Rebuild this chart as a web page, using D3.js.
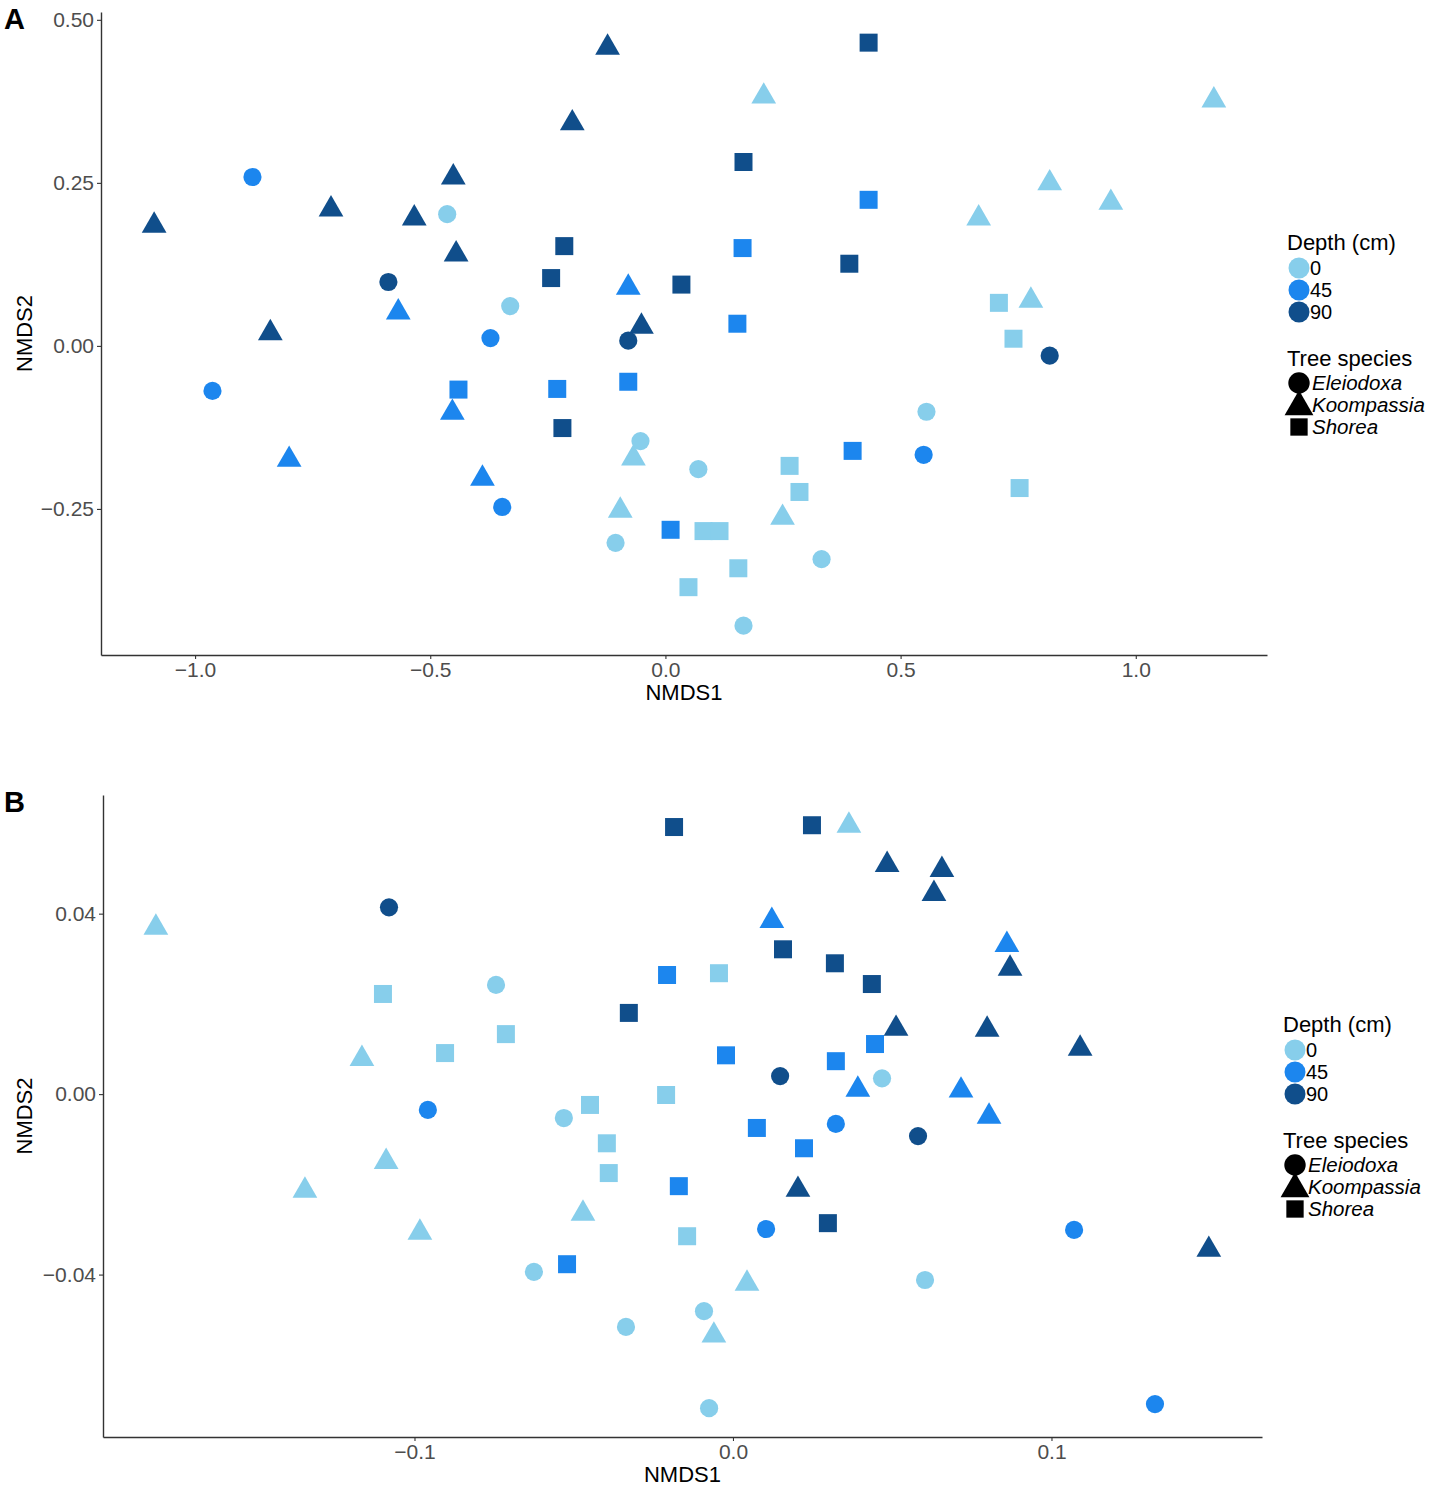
<!DOCTYPE html>
<html>
<head>
<meta charset="utf-8">
<script src="https://cdn.jsdelivr.net/npm/d3@7"></script>
<style>
  body { margin: 0; background: #fff; }
  svg { font-family: "Liberation Sans", Arial, sans-serif; }
</style>
</head>
<body>
<svg width="1450" height="1498"></svg>
<script>
// legend categories
const depthLevels = ["0", "45", "90"];
const speciesLevels = ["Eleiodoxa", "Koompassia", "Shorea"];
const depthColors = ["#87CEEB", "#1C86EE", "#104E8B"];

// ---- panel A (NMDS scores)
const aNmds1 = [
  -1.087, -0.711, -0.840, -0.534, -0.451, -0.445, -0.198, -0.123, -0.051,
  0.432, 0.166, -0.215, -0.243, 0.034, 0.391, -0.219,
  -0.589, -0.079, 0.817,
  -0.878, -0.963, -0.372, -0.347, 0.549,
  -0.568, -0.453, -0.800, -0.389, -0.079,
  -0.440, -0.230, -0.079, 0.164, 0.153, 0.432, 0.398, 0.011,
  -0.464, -0.330, -0.053, 0.070, -0.106, 0.332, 0.166, 0.555,
  0.209, 1.166, 0.817, 0.947, 0.666, 0.777, -0.068, -0.096, 0.249,
  0.709, 0.740, 0.753, 0.264, 0.285, 0.081, 0.115, 0.155, 0.049
];
const aNmds2 = [
  0.190, 0.215, 0.025, 0.201, 0.264, 0.146, 0.347, 0.463, 0.035,
  0.465, 0.282, 0.153, 0.104, 0.094, 0.126, -0.126,
  0.098, 0.008, -0.015,
  0.259, -0.069, 0.012, -0.247, -0.167,
  0.057, -0.097, -0.169, -0.198, 0.095,
  -0.067, -0.066, -0.055, 0.150, 0.034, 0.224, -0.161, -0.282,
  0.202, 0.061, -0.146, -0.189, -0.302, -0.327, -0.429, -0.101,
  0.388, 0.382, 0.255, 0.225, 0.201, 0.075, -0.167, -0.247, -0.258,
  0.066, 0.011, -0.218, -0.184, -0.224, -0.284, -0.284, -0.341, -0.370
];
const aDepth = [
  "90","90","90","90","90","90","90","90","90",
  "90","90","90","90","90","90","90",
  "90","90","90",
  "45","45","45","45","45",
  "45","45","45","45","45",
  "45","45","45","45","45","45","45","45",
  "0","0","0","0","0","0","0","0",
  "0","0","0","0","0","0","0","0","0",
  "0","0","0","0","0","0","0","0","0"
];
const aSpecies = [
  "K","K","K","K","K","K","K","K","K",
  "S","S","S","S","S","S","S",
  "E","E","E",
  "E","E","E","E","E",
  "K","K","K","K","K",
  "S","S","S","S","S","S","S","S",
  "E","E","E","E","E","E","E","E",
  "K","K","K","K","K","K","K","K","K",
  "S","S","S","S","S","S","S","S","S"
];
const aTicksX = [-1.0, -0.5, 0.0, 0.5, 1.0];
const aTicksY = [-0.25, 0.00, 0.25, 0.50];

// ---- panel B
const bNmds1 = [
  -0.1812, -0.1165, -0.1089, -0.1344, -0.0983, -0.0471, 0.0364, 0.0044, -0.0060,
  -0.0744, -0.0531, -0.0625, -0.0336, -0.0091, -0.0075, 0.0468, 0.0603,
  -0.1099, -0.0904, -0.0713, -0.0449, -0.0396, -0.0390, -0.0210, -0.0044, -0.0144,
  -0.0958, 0.0104, 0.0323, 0.1071, 0.1325,
  0.0122, 0.0860, 0.0392, 0.0716, 0.0804,
  -0.0521, -0.0207, -0.0022, 0.0323, 0.0446, 0.0075, 0.0223, -0.0170,
  -0.1080, 0.0148, 0.0581,
  0.0484, 0.0656, 0.0631, 0.0870, 0.0512, 0.0798, 0.1090, 0.0204, 0.1494,
  -0.0185, 0.0248, 0.0157, 0.0320, 0.0436, -0.0327, 0.0298
];
const bNmds2 = [
  0.0377, 0.0086, -0.0142, -0.0206, -0.0299, -0.0257, 0.0603, -0.0412, -0.0527,
  0.0242, -0.0053, -0.0394, -0.0516, -0.0481, -0.0696, 0.0035, -0.0412,
  0.0222, 0.0091, 0.0133, -0.0024, -0.0109, -0.0175, -0.0002, 0.0268, -0.0315,
  -0.0035, -0.0299, -0.0066, -0.0301, -0.0687,
  0.0392, 0.0339, 0.0018, 0.0016, -0.0042,
  -0.0377, 0.0264, 0.0086, 0.0073, 0.0111, -0.0075, -0.0120, -0.0204,
  0.0414, 0.0040, -0.0093,
  0.0516, 0.0505, 0.0452, 0.0286, 0.0153, 0.0151, 0.0109, -0.0204, -0.0337,
  0.0592, 0.0596, 0.0321, 0.0290, 0.0244, 0.0180, -0.0286
];
const bDepth = [
  "0","0","0","0","0","0","0","0","0",
  "0","0","0","0","0","0","0","0",
  "0","0","0","0","0","0","0","0","0",
  "45","45","45","45","45",
  "45","45","45","45","45",
  "45","45","45","45","45","45","45","45",
  "90","90","90",
  "90","90","90","90","90","90","90","90","90",
  "90","90","90","90","90","90","90"
];
const bSpecies = [
  "K","K","K","K","K","K","K","K","K",
  "E","E","E","E","E","E","E","E",
  "S","S","S","S","S","S","S","S","S",
  "E","E","E","E","E",
  "K","K","K","K","K",
  "S","S","S","S","S","S","S","S",
  "E","E","E",
  "K","K","K","K","K","K","K","K","K",
  "S","S","S","S","S","S","S"
];
const bTicksX = [-0.1, 0.0, 0.1];
const bTicksY = [-0.04, 0.00, 0.04];

const svg = d3.select("svg");

const color = d3.scaleOrdinal().domain(depthLevels).range(depthColors);
const shape = d3.scaleOrdinal()
  .domain(["E", "K", "S"])
  .range([d3.symbolCircle, d3.symbolTriangle, d3.symbolSquare]);
const symSize = { E: 260, K: 265, S: 324 };
// d3 triangles sit on their centroid, ggplot's look centred on the box
const symShift = k => (k === "K" ? Math.sqrt(symSize.K / (3 * Math.sqrt(3))) / 2 : 0);

function drawPanel(p) {
  const x = d3.scaleLinear().domain(p.xDomain).range([p.left, p.right]);
  const y = d3.scaleLinear().domain(p.yDomain).range([p.bottom, p.top]);
  const g = svg.append("g");

  const data = p.nmds1.map((v, i) => ({
    x: v, y: p.nmds2[i], depth: p.depth[i], sp: p.species[i]
  }));

  g.selectAll("path.pt")
    .data(data)
    .join("path")
    .attr("class", "pt")
    .attr("transform", d => `translate(${x(d.x)},${y(d.y) + symShift(d.sp)})`)
    .attr("d", d => d3.symbol(shape(d.sp), symSize[d.sp])())
    .attr("fill", d => color(d.depth));

  const xAxis = g.append("g")
    .attr("transform", `translate(0,${p.bottom})`)
    .call(d3.axisBottom(x).tickValues(p.ticksX).tickFormat(d3.format(".1f"))
      .tickSize(4).tickSizeOuter(0).tickPadding(3));
  const yAxis = g.append("g")
    .attr("transform", `translate(${p.left},0)`)
    .call(d3.axisLeft(y).tickValues(p.ticksY).tickFormat(d3.format(".2f"))
      .tickSize(4).tickSizeOuter(0).tickPadding(3));

  [xAxis, yAxis].forEach(a => {
    a.select(".domain").attr("stroke", "#333").attr("stroke-width", 1.4);
    a.selectAll(".tick line").attr("stroke", "#333").attr("stroke-width", 1.1);
    a.selectAll(".tick text")
      .attr("fill", "#4D4D4D")
      .style("font-size", "21px");
  });

  svg.append("text")
    .attr("x", (p.left + p.right) / 2)
    .attr("y", p.bottom + 45)
    .attr("text-anchor", "middle")
    .style("font-size", "22px")
    .text("NMDS1");

  svg.append("text")
    .attr("transform", "rotate(-90)")
    .attr("x", -(p.top + p.bottom) / 2)
    .attr("y", 32)
    .attr("text-anchor", "middle")
    .style("font-size", "22px")
    .text("NMDS2");

  svg.append("text")
    .attr("x", 4)
    .attr("y", p.top + p.letterDy)
    .style("font-size", "29px")
    .style("font-weight", "bold")
    .text(p.letter);

  // legends
  const lg = svg.append("g").attr("transform", `translate(${p.legX},${p.legY})`);
  lg.append("text").attr("x", 0).attr("y", 0).style("font-size", "22px").text("Depth (cm)");
  depthLevels.forEach((k, i) => {
    const cy = 18 + i * 22;
    lg.append("circle").attr("cx", 12).attr("cy", cy).attr("r", 10.5).attr("fill", color(k));
    lg.append("text").attr("x", 23).attr("y", cy + 7).style("font-size", "20px").text(k);
  });
  lg.append("text").attr("x", 0).attr("y", 116).style("font-size", "22px").text("Tree species");
  ["E", "K", "S"].forEach((k, i) => {
    const cy = 133 + i * 22;
    lg.append("path")
      .attr("transform", `translate(12,${cy + (k === "K" ? 2 : 0)})`)
      .attr("d", d3.symbol(shape(k), k === "S" ? 300 : 360)())
      .attr("fill", "#000");
    lg.append("text").attr("x", 25).attr("y", cy + 7)
      .style("font-size", "20.5px").style("font-style", "italic")
      .text(speciesLevels[i]);
  });
}

drawPanel({
  letter: "A", letterDy: 17,
  nmds1: aNmds1, nmds2: aNmds2, depth: aDepth, species: aSpecies,
  ticksX: aTicksX, ticksY: aTicksY,
  xDomain: [-1.2, 1.279], yDomain: [-0.474, 0.512],
  left: 101, right: 1267, top: 12, bottom: 655,
  legX: 1287, legY: 250
});

drawPanel({
  letter: "B", letterDy: 17,
  nmds1: bNmds1, nmds2: bNmds2, depth: bDepth, species: bSpecies,
  ticksX: bTicksX, ticksY: bTicksY,
  xDomain: [-0.1978, 0.1661], yDomain: [-0.0760, 0.0663],
  left: 103, right: 1262, top: 795, bottom: 1437,
  legX: 1283, legY: 1032
});
</script>
</body>
</html>
